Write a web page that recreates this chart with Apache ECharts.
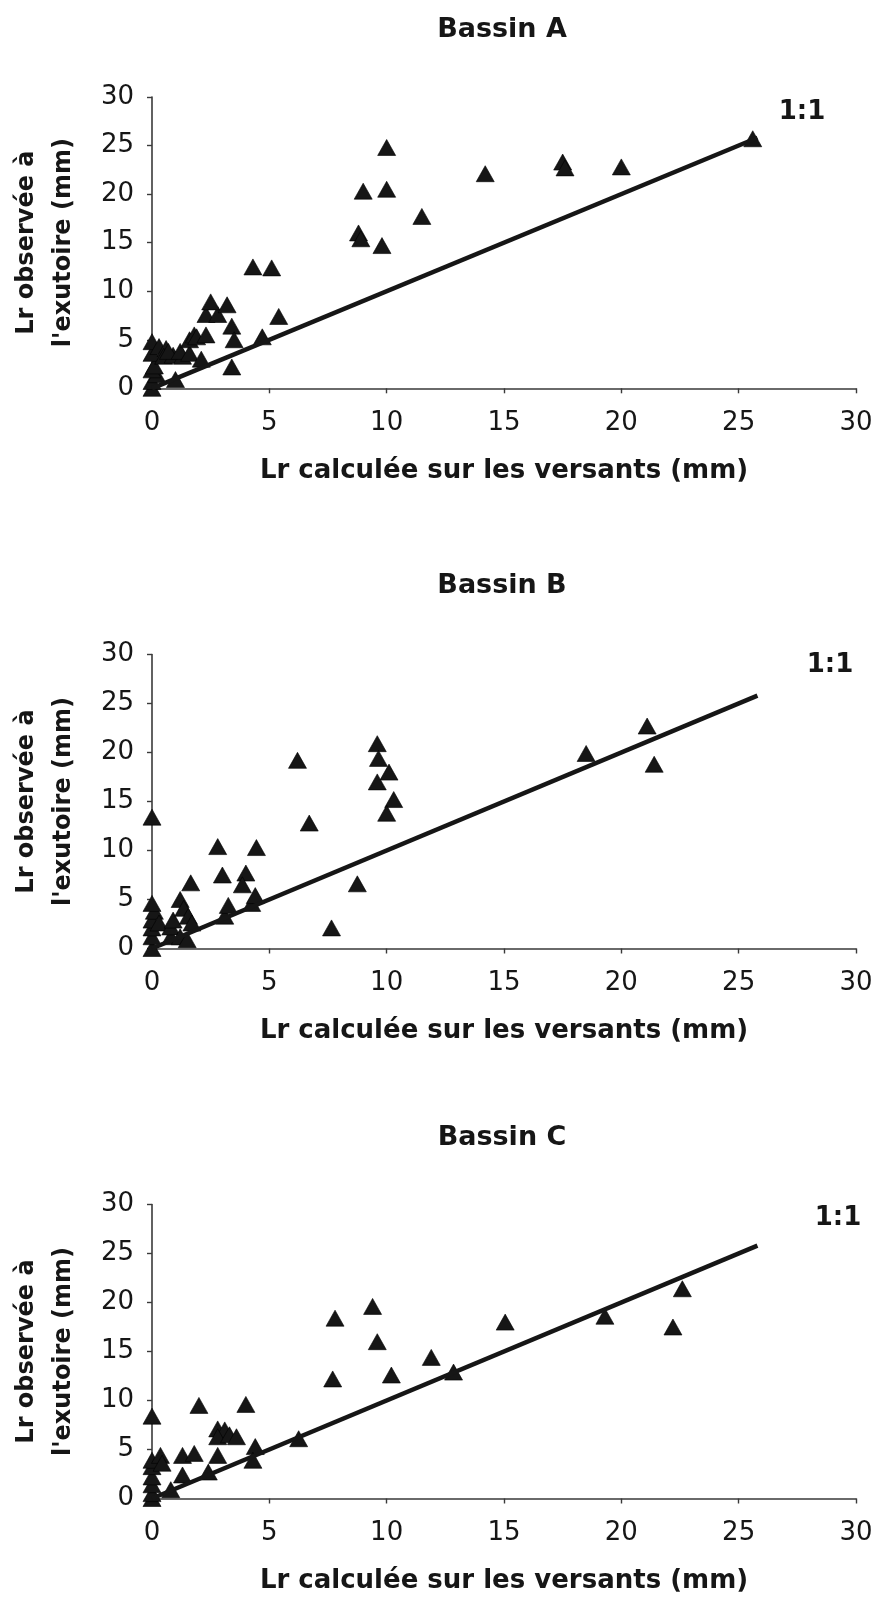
<!DOCTYPE html>
<html>
<head>
<meta charset="utf-8">
<script src="https://cdn.jsdelivr.net/npm/echarts@6/dist/echarts.min.js"></script>
<style>html,body{margin:0;padding:0;background:#fff}#c{width:880px;height:1600px}</style>
</head>
<body>
<div id="c"></div>
<script>
// ---- data ----
const titles = ['Bassin A', 'Bassin B', 'Bassin C'];
const xName = 'Lr calculée sur les versants (mm)';
const yName = "Lr observée à\nl'exutoire (mm)";
const lineLabel = '1:1';
const axisTicks = [0, 5, 10, 15, 20, 25, 30];
const oneToOne = [[0, 0], [25.8, 25.8]];

const bassinA = [[0,0],[0,0.7],[0.2,1.4],[0,1.9],[0.1,2.3],[0,3.6],[0,4.8],[0.3,4.3],[0.6,4.1],[0.5,3.3],[0.9,3.4],[1.3,3.3],[0.7,3.8],[1.2,3.8],[1.6,3.6],[1.0,0.9],[1.6,5.0],[1.8,5.5],[1.9,5.3],[2.3,5.5],[2.1,3.0],[2.3,7.6],[2.8,7.6],[2.5,8.9],[3.2,8.6],[3.4,6.4],[3.5,5.0],[3.4,2.2],[4.7,5.3],[4.3,12.5],[5.1,12.4],[5.4,7.4],[8.8,16.0],[8.9,15.4],[9.0,20.3],[9.8,14.7],[10.0,20.5],[10.0,24.8],[11.5,17.7],[14.2,22.1],[17.5,23.3],[17.6,22.7],[20.0,22.8],[25.6,25.7]];

const bassinB = [[0,0],[0,1.2],[0,2.1],[0,2.9],[0.1,3.8],[0,4.6],[0.3,2.6],[0.8,1.2],[0.8,2.2],[0.9,2.9],[1.2,1.2],[1.5,0.9],[1.2,5.0],[1.35,4.1],[1.55,3.3],[1.7,2.6],[1.65,6.7],[3.0,7.5],[3.1,3.3],[3.25,4.4],[2.8,10.4],[4.0,7.7],[3.85,6.5],[4.25,4.6],[4.4,5.4],[4.45,10.3],[0,13.4],[6.2,19.2],[6.7,12.8],[7.65,2.1],[8.75,6.6],[9.6,20.9],[9.65,19.4],[10.1,18.0],[9.6,17.0],[10.3,15.2],[10.0,13.8],[18.5,19.9],[21.1,22.7],[21.4,18.8]];

const bassinC = [[0,0],[0,0.5],[0,1.4],[0,2.2],[0,3.25],[0,3.9],[0.36,4.4],[0.43,3.6],[0.8,0.9],[1.3,2.4],[1.3,4.4],[1.8,4.6],[2.4,2.7],[2.8,4.4],[2.0,9.5],[4.0,9.6],[0,8.4],[2.8,7.1],[3.1,7.0],[2.8,6.3],[3.3,6.5],[3.6,6.3],[4.4,5.3],[4.3,3.9],[6.25,6.1],[7.8,18.4],[7.7,12.2],[9.4,19.6],[9.6,16.0],[10.2,12.6],[11.9,14.4],[12.85,12.9],[15.05,18.0],[19.3,18.6],[22.6,21.4],[22.2,17.5]];

const datasets = [bassinA, bassinB, bassinC];

// ---- layout ----
const FONT = 'DejaVu Sans';
const INK = '#161616';
const grids = [
  { left: 146.5, right: 24, top: 97, height: 291.3 },
  { left: 146.5, right: 24, top: 654.5, height: 294 },
  { left: 146.5, right: 24, top: 1204.5, height: 294 }
];
const titleTops = [16, 572, 1124];
const ratioPos = [[802, 112], [830, 665], [838, 1218]];

const axisBase = {
  type: 'value', min: axisTicks[0], max: axisTicks[axisTicks.length - 1], interval: axisTicks[1] - axisTicks[0],
  splitLine: { show: false },
  axisLine: { show: true, onZero: false, lineStyle: { color: '#3a3a3a', width: 1.6 } },
  axisTick: { show: true, length: 5, lineStyle: { color: '#3a3a3a', width: 1.4 } }
};

const option = {
  animation: false,
  backgroundColor: '#ffffff',
  textStyle: { fontFamily: FONT },
  title: titles.map((t, i) => ({
    text: t, left: 502, top: titleTops[i], textAlign: 'center', padding: 0,
    textStyle: { fontFamily: FONT, fontSize: 27, fontWeight: 'bold', color: INK }
  })),
  grid: grids,
  xAxis: grids.map((g, i) => Object.assign({}, axisBase, {
    gridIndex: i,
    name: xName, nameLocation: 'middle', nameGap: 70,
    nameTextStyle: { fontFamily: FONT, fontSize: 26, fontWeight: 'bold', color: INK },
    axisLabel: { margin: 22, fontFamily: FONT, fontSize: 26, color: INK }
  })),
  yAxis: grids.map((g, i) => Object.assign({}, axisBase, {
    gridIndex: i,
    name: yName, nameLocation: 'middle', nameGap: 70, nameRotate: 90,
    nameTextStyle: { fontFamily: FONT, fontSize: 24, fontWeight: 'bold', color: INK, lineHeight: 37 },
    axisLabel: { margin: 18, fontFamily: FONT, fontSize: 26, color: INK }
  })),
  series: [].concat(
    datasets.map((d, i) => ({
      type: 'scatter', xAxisIndex: i, yAxisIndex: i, data: d, clip: false,
      symbol: 'triangle', symbolSize: [18, 16],
      itemStyle: { color: INK, opacity: 1, borderColor: '#000', borderWidth: 0.6 }, z: 3
    })),
    datasets.map((d, i) => ({
      type: 'line', xAxisIndex: i, yAxisIndex: i, data: oneToOne, showSymbol: false, symbol: 'none',
      lineStyle: { color: INK, width: 4.5 }, z: 4, silent: true
    }))
  ),
  graphic: ratioPos.map(p => ({
    type: 'text', x: p[0], y: p[1],
    style: { text: lineLabel, font: 'bold 26px "' + FONT + '"', fill: INK, align: 'center', verticalAlign: 'middle' }
  }))
};

const chart = echarts.init(document.getElementById('c'), null, { renderer: 'canvas' });
chart.setOption(option);
</script>
</body>
</html>
